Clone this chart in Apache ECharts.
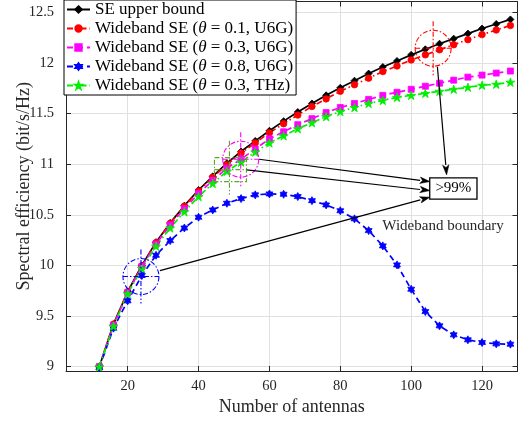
<!DOCTYPE html>
<html>
<head>
<meta charset="utf-8">
<script src="https://cdn.jsdelivr.net/npm/echarts@6/dist/echarts.min.js"></script>
<style>
  html, body { margin: 0; padding: 0; background: #fff; }
  #chart { width: 521px; height: 423px; }
</style>
</head>
<body>
<div id="chart"></div>
<script>
// Number of antennas (x) and spectral efficiency curves (bit/s/Hz)
const antennas = [12, 16, 20, 24, 28, 32, 36, 40, 44, 48, 52, 56, 60, 64, 68, 72, 76, 80, 84, 88,
                  92, 96, 100, 104, 108, 112, 116, 120, 124, 128];
const seUpperBound = [9.00, 9.42, 9.74, 10.00, 10.23, 10.42, 10.59, 10.745, 10.88, 11.01,
                      11.125, 11.23, 11.33, 11.425, 11.515, 11.60, 11.68, 11.755, 11.825, 11.895,
                      11.96, 12.02, 12.08, 12.135, 12.19, 12.24, 12.29, 12.34, 12.385, 12.43];
const seTheta01U6G = [9.00, 9.42, 9.74, 9.995, 10.225, 10.415, 10.585, 10.735, 10.87, 10.995,
                      11.11, 11.21, 11.31, 11.40, 11.485, 11.57, 11.645, 11.72, 11.785, 11.85,
                      11.915, 11.97, 12.03, 12.08, 12.13, 12.18, 12.23, 12.28, 12.325, 12.37];
const seTheta03U6G = [9.00, 9.41, 9.73, 9.99, 10.21, 10.40, 10.56, 10.71, 10.84, 10.96,
                      11.05, 11.15, 11.25, 11.32, 11.39, 11.45, 11.51, 11.56, 11.60, 11.64,
                      11.68, 11.71, 11.74, 11.77, 11.80, 11.83, 11.86, 11.88, 11.90, 11.92];
const seTheta08U6G = [8.99, 9.38, 9.65, 9.90, 10.10, 10.245, 10.37, 10.476, 10.548, 10.614,
                      10.66, 10.697, 10.706, 10.703, 10.68, 10.64, 10.598, 10.54, 10.46, 10.344,
                      10.193, 10.005, 9.765, 9.544, 9.403, 9.314, 9.265, 9.238, 9.225, 9.222];
const seTheta03THz = [9.00, 9.40, 9.72, 9.97, 10.19, 10.37, 10.53, 10.68, 10.81, 10.93,
                      11.02, 11.12, 11.21, 11.28, 11.35, 11.41, 11.47, 11.52, 11.56, 11.60,
                      11.63, 11.66, 11.68, 11.70, 11.72, 11.74, 11.76, 11.78, 11.79, 11.81];

const seriesNames = [
  'SE upper bound',
  'Wideband SE (θ = 0.1, U6G)',
  'Wideband SE (θ = 0.3, U6G)',
  'Wideband SE (θ = 0.8, U6G)',
  'Wideband SE (θ = 0.3, THz)'
];
const xTickValues = [20, 40, 60, 80, 100, 120];
const yTickValues = [9, 9.5, 10, 10.5, 11, 11.5, 12, 12.5];

const FONT = '"Liberation Serif", "Times New Roman", serif';
const AXIS_COLOR = '#262626';
const X_RANGE = [2.6, 130];
const Y_RANGE = [8.957, 12.607];

const PENTAGRAM = 'path://M50,0 L61.2,34.5 L97.6,34.5 L68.2,55.9 L79.4,90.5 L50,69.1 L20.6,90.5 L31.8,55.9 L2.4,34.5 L38.8,34.5 Z';
const HEXAGRAM = 'path://M50,0 L64.4,25 L93.3,25 L78.9,50 L93.3,75 L64.4,75 L50,100 L35.6,75 L6.7,75 L21.1,50 L6.7,25 L35.6,25 Z';

const DASH = [6, 4];
const DASH_DOT = [6, 3, 1.5, 3];

function lineSeries(name, values, color, symbol, size, dash) {
  return {
    name: name,
    type: 'line',
    data: antennas.map((n, i) => [n, values[i]]),
    symbol: symbol,
    symbolSize: size,
    symbolKeepAspect: true,
    showAllSymbol: true,
    color: color,
    itemStyle: { color: color, borderColor: color, borderWidth: 0.8 },
    lineStyle: { color: color, width: 1.7, type: dash },
    emphasis: { disabled: true },
    clip: false
  };
}

const chart = echarts.init(document.getElementById('chart'), null, { renderer: 'canvas' });

function frameAxis(base) {
  return Object.assign({
    type: 'value',
    nameMoveOverlap: false,
    axisLine: { show: true, onZero: false, lineStyle: { color: AXIS_COLOR, width: 1 } },
    splitLine: { show: false },
    axisLabel: { show: false },
    axisTick: { show: true, inside: true, length: 5, lineStyle: { color: AXIS_COLOR } }
  }, base);
}

chart.setOption({
  animation: false,
  backgroundColor: '#fff',
  grid: { left: 66, right: 3.5, top: 1.5, bottom: 52, containLabel: false, outerBoundsMode: 'none' },
  legend: {
    orient: 'vertical',
    left: 64,
    top: 0,
    data: seriesNames,
    itemWidth: 23,
    itemHeight: 8,
    itemGap: 2,
    padding: [1, 3, 1, 2],
    backgroundColor: '#fff',
    borderColor: '#000',
    borderWidth: 1,
    borderRadius: 0,
    selectedMode: false,
    formatter: name => name.replace('θ', '{i|θ}'),
    textStyle: {
      fontFamily: FONT, fontSize: 17, color: '#000',
      rich: { i: { fontFamily: FONT, fontSize: 17, fontStyle: 'italic', color: '#000' } }
    }
  },
  xAxis: [
    frameAxis({
      min: X_RANGE[0], max: X_RANGE[1], position: 'bottom',
      name: 'Number of antennas', nameLocation: 'middle', nameGap: 27,
      nameTextStyle: { fontFamily: FONT, fontSize: 18, color: AXIS_COLOR },
      axisTick: { show: true, inside: true, length: 5, customValues: xTickValues, lineStyle: { color: AXIS_COLOR } },
      axisLabel: { show: true, customValues: xTickValues, fontFamily: FONT, fontSize: 14.5, color: AXIS_COLOR, margin: 8 },
      splitLine: { show: true, lineStyle: { color: '#e0e0e0', width: 1 } }
    }),
    frameAxis({
      min: X_RANGE[0], max: X_RANGE[1], position: 'top',
      axisTick: { show: true, inside: true, length: 5, customValues: xTickValues, lineStyle: { color: AXIS_COLOR } }
    })
  ],
  yAxis: [
    frameAxis({
      min: Y_RANGE[0], max: Y_RANGE[1], position: 'left',
      name: 'Spectral efficiency (bit/s/Hz)', nameLocation: 'middle', nameGap: 33,
      nameTextStyle: { fontFamily: FONT, fontSize: 18, color: AXIS_COLOR },
      axisTick: { show: true, inside: true, length: 5, customValues: yTickValues, lineStyle: { color: AXIS_COLOR } },
      axisLabel: { show: true, customValues: yTickValues, fontFamily: FONT, fontSize: 14.5, color: AXIS_COLOR, margin: 12 },
      splitLine: { show: true, lineStyle: { color: '#e0e0e0', width: 1 } }
    }),
    frameAxis({
      min: Y_RANGE[0], max: Y_RANGE[1], position: 'right',
      axisTick: { show: true, inside: true, length: 5, customValues: yTickValues, lineStyle: { color: AXIS_COLOR } }
    })
  ],
  series: [
    lineSeries(seriesNames[0], seUpperBound, '#000000', 'diamond', 7, 'solid'),
    lineSeries(seriesNames[1], seTheta01U6G, '#ff0000', 'circle', 6.5, DASH_DOT),
    lineSeries(seriesNames[2], seTheta03U6G, '#ff00ff', 'rect', 6, DASH),
    lineSeries(seriesNames[3], seTheta08U6G, '#0000ff', HEXAGRAM, 8, DASH),
    lineSeries(seriesNames[4], seTheta03THz, '#00ee00', PENTAGRAM, 9, DASH_DOT)
  ]
});

// Annotation layer: markers around the ~99% points, arrows to the label box
const toPx = p => chart.convertToPixel({ gridIndex: 0 }, p);

const rings = [
  { at: [23.75, 9.89], r: 18, color: '#0000ff' },
  { at: [51.9, 11.049], r: 18, color: '#ff00ff' },
  { at: [106.2, 12.145], r: 18, color: '#ff0000' }
];
const boundaryBox = { at: [49.0, 10.946], w: 32, h: 24, color: '#5fa52a' };
const arrows = [
  { from: [57.1, 11.049], to: [105.3, 10.828] },
  { from: [53.6, 10.943], to: [105.3, 10.739] },
  { from: [29.1, 9.949], to: [105.3, 10.674] },
  { from: [107.4, 11.963], to: [110.0, 10.894] }
];
const percentLabel = { at: [111.9, 10.76], text: '>99%' };
const boundaryLabel = { at: [109.0, 10.39], text: 'Wideband boundary' };

const graphics = [];
const ringDash = [5, 2, 1.5, 2];

rings.forEach(ring => {
  const [cx, cy] = toPx(ring.at);
  const style = { fill: 'none', stroke: ring.color, lineWidth: 1.1, lineDash: ringDash };
  graphics.push({ type: 'circle', shape: { cx, cy, r: ring.r }, style, z: 50 });
  graphics.push({ type: 'line', shape: { x1: cx, y1: cy - ring.r * 1.5, x2: cx, y2: cy + ring.r * 1.5 }, style, z: 50 });
  graphics.push({ type: 'line', shape: { x1: cx - ring.r, y1: cy, x2: cx + ring.r, y2: cy }, style, z: 50 });
});

(function () {
  const [cx, cy] = toPx(boundaryBox.at);
  const style = { fill: 'none', stroke: boundaryBox.color, lineWidth: 1.1, lineDash: ringDash };
  graphics.push({ type: 'rect', shape: { x: cx - boundaryBox.w / 2, y: cy - boundaryBox.h / 2, width: boundaryBox.w, height: boundaryBox.h }, style, z: 50 });
  graphics.push({ type: 'line', shape: { x1: cx - 1, y1: cy - 29, x2: cx - 1, y2: cy + 25 }, style, z: 50 });
  graphics.push({ type: 'line', shape: { x1: cx - 16, y1: cy, x2: cx + 16, y2: cy }, style, z: 50 });
})();

arrows.forEach(a => {
  const [x1, y1] = toPx(a.from);
  const [x2, y2] = toPx(a.to);
  const ang = Math.atan2(y2 - y1, x2 - x1);
  const len = 10, half = 3.2;
  const bx = x2 - len * Math.cos(ang), by = y2 - len * Math.sin(ang);
  graphics.push({ type: 'line', shape: { x1, y1, x2: bx, y2: by }, style: { stroke: '#000', lineWidth: 1.2 }, z: 60 });
  graphics.push({
    type: 'polygon',
    shape: { points: [
      [x2, y2],
      [bx + half * Math.sin(ang), by - half * Math.cos(ang)],
      [x2 - len * 0.75 * Math.cos(ang), y2 - len * 0.75 * Math.sin(ang)],
      [bx - half * Math.sin(ang), by + half * Math.cos(ang)]
    ] },
    style: { fill: '#000', stroke: '#000', lineWidth: 0.5 },
    z: 60
  });
});

(function () {
  const [px, py] = toPx(percentLabel.at);
  graphics.push({
    type: 'text', x: px, y: py, z: 70,
    style: {
      text: percentLabel.text, fill: '#000', font: '15px ' + FONT,
      align: 'center', verticalAlign: 'middle',
      backgroundColor: '#fff', borderColor: '#000', borderWidth: 1.3,
      padding: [3, 5, 2, 5]
    }
  });
  const [tx, ty] = toPx(boundaryLabel.at);
  graphics.push({
    type: 'text', x: tx, y: ty, z: 70,
    style: {
      text: boundaryLabel.text, fill: AXIS_COLOR, font: '15px ' + FONT,
      align: 'center', verticalAlign: 'middle'
    }
  });
})();

chart.setOption({ graphic: graphics });
</script>
</body>
</html>
